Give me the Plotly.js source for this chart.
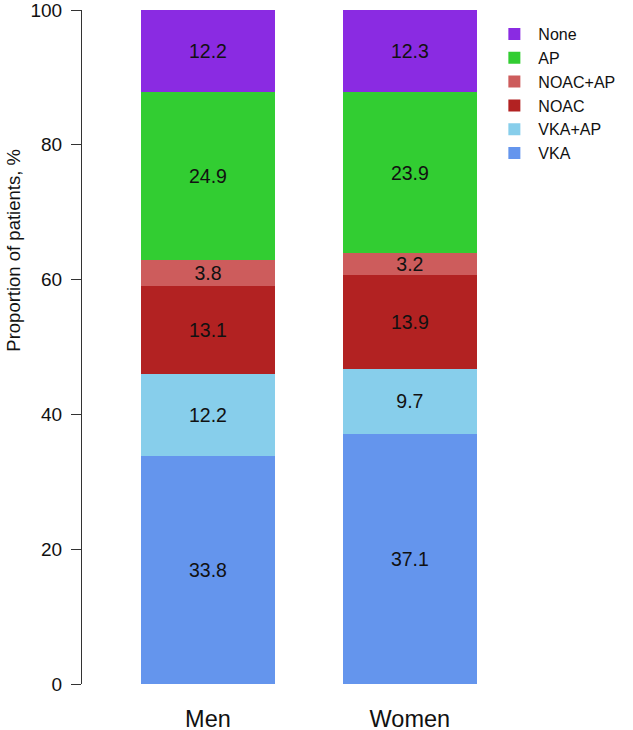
<!DOCTYPE html>
<html><head><meta charset="utf-8">
<script src="https://cdn.plot.ly/plotly-3.0.1.min.js"></script>
<style>body{margin:0;background:#fff}#c{width:633px;height:730px}</style>
</head><body><div id="c"></div>
<script>
const groups = ["Men", "Women"];
const seriesNames = ["VKA", "VKA+AP", "NOAC", "NOAC+AP", "AP", "None"];
const vka = [33.8, 37.1];
const vkaAp = [12.2, 9.7];
const noac = [13.1, 13.9];
const noacAp = [3.8, 3.2];
const ap = [24.9, 23.9];
const none = [12.2, 12.3];
const colors = ["#6495ED", "#87CEEB", "#B22222", "#CD5C5C", "#32CD32", "#8A2BE2"];
const yTicks = [0, 20, 40, 60, 80, 100];

const values = [vka, vkaAp, noac, noacAp, ap, none];
const font = "Liberation Sans, Arial, sans-serif";
const traces = values.map((v, i) => ({
  type: "bar", name: seriesNames[i], x: groups, y: v,
  marker: {color: colors[i], line: {width: 0}},
  text: v.map(d => d.toFixed(1)), textposition: "inside", insidetextanchor: "middle",
  constraintext: "none", textangle: 0,
  textfont: {family: font, size: 19.5, color: "#111"},
  hoverinfo: "skip"
}));

const layout = {
  width: 633, height: 730,
  margin: {l: 82, r: 102, t: 10, b: 46, autoexpand: false},
  paper_bgcolor: "#fff", plot_bgcolor: "#fff",
  barmode: "stack", bargap: 0.337,
  font: {family: font, color: "#111"},
  xaxis: {range: [-0.624, 1.6], showline: false, showgrid: false, zeroline: false,
    ticks: "", ticklabelstandoff: 18, tickfont: {size: 23.5, color: "#111"}, fixedrange: true},
  yaxis: {range: [0, 100], tickvals: yTicks, ticktext: yTicks.map(String),
    showline: true, linecolor: "#333", linewidth: 1, ticks: "outside", ticklen: 10,
    tickcolor: "#333", showgrid: false, zeroline: false, ticklabelstandoff: 5,
    ticklabeloverflow: "allow", tickfont: {size: 19, color: "#111"}},
  showlegend: true,
  legend: {traceorder: "reversed", x: 0.9095, xanchor: "left", y: 0.9895, yanchor: "top",
    font: {size: 16, color: "#111"}, tracegroupgap: 0, itemwidth: 38, bgcolor: "rgba(0,0,0,0)"},
  annotations: [{text: "Proportion of patients, %", xref: "paper", yref: "paper",
    x: -0.152, xanchor: "center", y: 0.644, yanchor: "middle", textangle: -90, showarrow: false,
    font: {size: 18.5, color: "#111"}}]
};
Plotly.newPlot("c", traces, layout, {displayModeBar: false, staticPlot: true});
</script></body></html>
